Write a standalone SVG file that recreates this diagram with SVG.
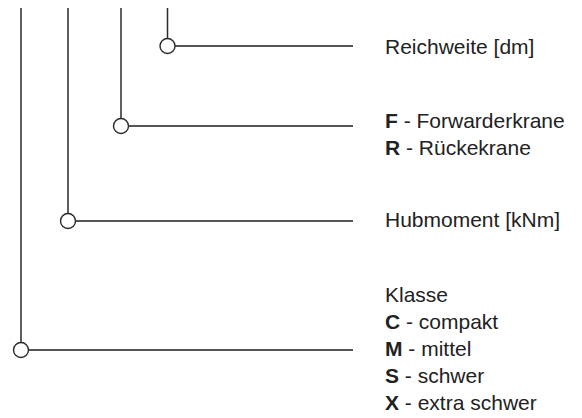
<svg xmlns="http://www.w3.org/2000/svg" width="582" height="418" viewBox="0 0 582 418">
<style>
.v{stroke:#2a2a2a;stroke-width:1.5;fill:none}
.h{stroke:#555;stroke-width:1.8;fill:none}
.c{stroke:#2a2a2a;stroke-width:1.4;fill:#fff}
text{font-family:"Liberation Sans",Arial,sans-serif;font-size:21px;fill:#222}
.b{font-weight:bold}
</style>
<rect width="582" height="418" fill="#fff"/>
<g id="connectors">
<line class="v" x1="167.5" y1="8" x2="167.5" y2="38.5"/>
<line class="h" x1="175" y1="46" x2="353" y2="46"/>
<line class="v" x1="121" y1="8" x2="121" y2="118.5"/>
<line class="h" x1="128.5" y1="126" x2="353" y2="126"/>
<line class="v" x1="68" y1="8" x2="68" y2="213.5"/>
<line class="h" x1="75.5" y1="221" x2="353" y2="221"/>
<line class="v" x1="21" y1="8" x2="21" y2="342.5"/>
<line class="h" x1="28.5" y1="350" x2="353" y2="350"/>
</g>
<g id="reichweite">
<circle class="c" cx="167.5" cy="46" r="7.5"/>
<text x="385" y="54">Reichweite [dm]</text>
</g>
<g id="kranart">
<circle class="c" cx="121" cy="126" r="7.5"/>
<text x="385" y="128">
<tspan class="b">F</tspan> - Forwarderkrane</text>
<text x="385" y="155"><tspan class="b">R</tspan> - Rückekrane</text>
</g>
<g id="hubmoment">
<circle class="c" cx="68" cy="221" r="7.5"/>
<text x="385" y="227">Hubmoment [kNm]</text>
</g>
<g id="klasse">
<circle class="c" cx="21" cy="350" r="7.5"/>
<text x="385" y="302">Klasse</text>
<text x="385" y="329"><tspan class="b">C</tspan> - compakt</text>
<text x="385" y="356"><tspan class="b">M</tspan> - mittel</text>
<text x="385" y="383"><tspan class="b">S</tspan> - schwer</text>
<text x="385" y="410"><tspan class="b">X</tspan> - extra schwer</text>
</g>
</svg>
